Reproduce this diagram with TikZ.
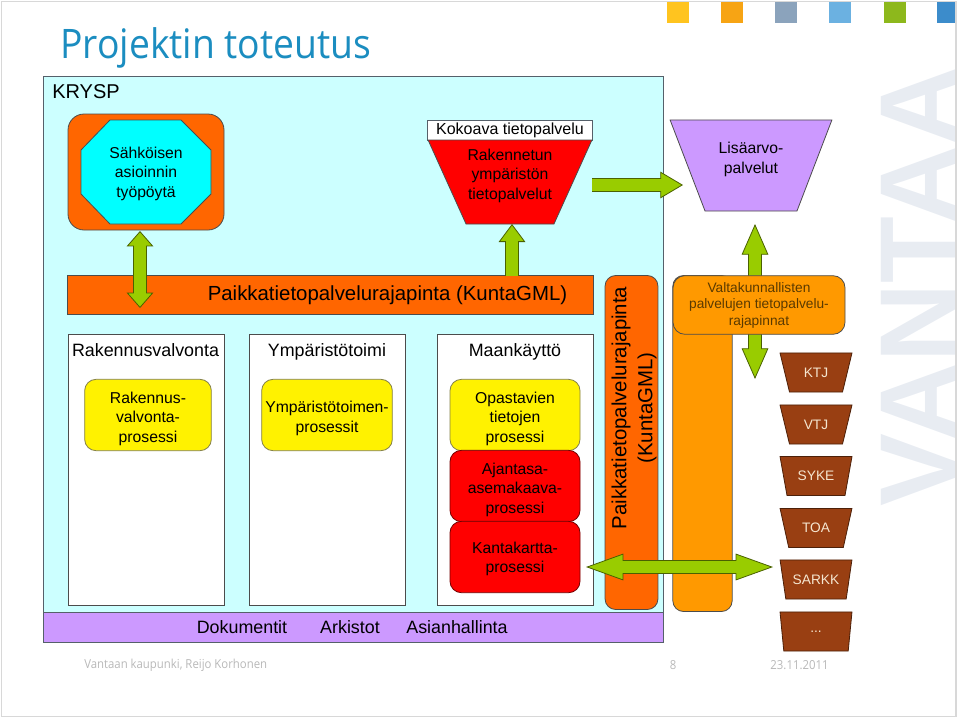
\documentclass[tikz,border=0pt]{standalone}
\usepackage{xcolor}
\usepackage{fontspec}
\setmainfont{Liberation Sans}
\newfontfamily\slidefont[FakeStretch=0.917]{Open Sans}
\usetikzlibrary{arrows.meta,shapes.geometric}
\newcommand{\lowered}{\rule{0pt}{14pt}}
\newcommand{\lowhalf}{\rule{0pt}{11.3pt}}
\definecolor{titleblue}{HTML}{1B8DC0}
\definecolor{footgray}{HTML}{B8B8B8}
\definecolor{framegray}{HTML}{D8D8D8}
\definecolor{markgray}{HTML}{E8ECF2}
\definecolor{krysplight}{HTML}{CCFFFF}
\definecolor{boxline}{HTML}{55606A}
\definecolor{apiorange}{HTML}{FF6600}
\definecolor{natorange}{HTML}{FF9900}
\definecolor{octcyan}{HTML}{00FFFF}
\definecolor{lilac}{HTML}{CC99FF}
\definecolor{arrowgreen}{HTML}{99CC00}
\definecolor{arrowline}{HTML}{4A6100}
\definecolor{brown}{HTML}{993F12}
\definecolor{cream}{HTML}{F5E6D0}
\definecolor{natbrown}{HTML}{5A3A00}
\definecolor{sqyellow}{HTML}{FFC41F}
\definecolor{sqorange}{HTML}{F7A414}
\definecolor{sqgray}{HTML}{8BA3BC}
\definecolor{sqsky}{HTML}{6BB1E1}
\definecolor{sqgreen}{HTML}{8DB81C}
\definecolor{sqblue}{HTML}{3C8CCB}
\tikzset{
    x=0.75pt,y=-0.75pt,
    shapebox/.style={draw=#1,line width=0.6pt,inner sep=0pt,outer sep=0pt,align=center},
    shapebox/.default=boxline,
    bodytext/.style={font=\fontsize{11.8}{14.6}\selectfont,align=center},
    headtext/.style={font=\fontsize{13.4}{16}\selectfont,inner sep=0pt},
    apitext/.style={font=\fontsize{15.3}{19.5}\selectfont,inner sep=0pt,align=center},
    footer/.style={font=\slidefont\fontsize{9.3}{11}\selectfont,text=footgray,inner sep=0pt},
    square/.style={fill=#1,inner sep=0pt,minimum width=16.5pt,minimum height=16.5pt},
    funnel/.style={shapebox,trapezium,trapezium stretches=true,shape border rotate=180,trapezium left angle=#1,trapezium right angle=#1},
    regbox/.style={funnel=65.5,draw=brown!50!black,fill=brown,minimum width=54pt,minimum height=29.3pt,text=cream,font=\fontsize{10.3}{12}\selectfont},
    procbox/.style={shapebox=#1!45!black,fill=#1,rounded corners=8.5pt,bodytext},
    upgreen/.style 2 args={draw=arrowline,line width=0.6pt,double=arrowgreen,double distance=9.2pt,postaction={draw=arrowgreen,line width=0.6pt,double=arrowgreen,double distance=7.8pt,arrows=-,shorten <=#1,shorten >=#2}},
    headshort/.tip={Triangle[length=11.5pt,width=20pt,fill=arrowgreen,line width=0.6pt]},
    headmid/.tip={Triangle[length=13.5pt,width=20pt,fill=arrowgreen,line width=0.6pt]},
    headlong/.tip={Triangle[length=17pt,width=20pt,fill=arrowgreen,line width=0.6pt]},
    headtall/.tip={Triangle[length=23pt,width=20pt,fill=arrowgreen,line width=0.6pt]},
    headwide/.tip={Triangle[length=28pt,width=20pt,fill=arrowgreen,line width=0.6pt]},
}
\begin{document}
\begin{tikzpicture}
            \useasboundingbox (0,0) rectangle (960,718);
            \node[square=sqyellow] (sqa) at (678,12) {};
            \node[square=sqorange] (sqb) at (732,12) {};
            \node[square=sqgray] (sqc) at (786,12) {};
            \node[square=sqsky] (sqd) at (840,12) {};
            \node[square=sqgreen] (sqe) at (895,12) {};
            \node[square=sqblue,minimum width=14.25pt] (sqf) at (946.5,12) {};
            \node[rotate=90,anchor=base,inner sep=0pt,text=markgray,font=\bfseries\fontsize{82}{82}\selectfont] (mark) at (956,286.5) {VANTAA};
            \draw[framegray,line width=1pt] (1.5,1.5) rectangle (956,716.5);

            \node[anchor=base west,inner sep=0pt,text=titleblue,font=\slidefont\fontsize{30.5}{36}\selectfont] (title) at (60,58) {Projektin toteutus};
            \node[footer,anchor=west] (footleft) at (84,665.5) {Vantaan kaupunki, Reijo Korhonen};
            \node[footer] (footnum) at (673,665.5) {8};
            \node[footer] (footdate) at (799.5,665.5) {23.11.2011};

            \node[shapebox,fill=krysplight,minimum width=465pt,minimum height=402pt] (krysp) at (353,344) {};
            \node[anchor=west,inner sep=0pt,font=\fontsize{15}{18}\selectfont] (krysplabel) at (52,92) {KRYSP};
            \node[shapebox,fill=lilac,minimum width=465pt,minimum height=22.5pt] (docbar) at (353,627) {};
            \node[headtext] (doc) at (242,627) {Dokumentit};
            \node[headtext] (arch) at (350,627) {Arkistot};
            \node[headtext] (case) at (457,627) {Asianhallinta};

            \node[shapebox=black!70,fill=white,minimum width=117pt,minimum height=203.5pt] (rakbox) at (146,470) {};
            \node[shapebox=black!70,fill=white,minimum width=117pt,minimum height=203.5pt] (ympbox) at (327,470) {};
            \node[shapebox=black!70,fill=white,minimum width=117pt,minimum height=203.5pt] (maabox) at (515,470) {};
            \node[headtext,anchor=base] (rakhead) at (145.5,356) {Rakennusvalvonta};
            \node[headtext,anchor=base] (ymphead) at (327,356) {Ympäristötoimi};
            \node[headtext,anchor=base] (maahead) at (515,356) {Maankäyttö};

            \node[procbox=yellow,minimum width=95pt,minimum height=53.5pt] (rakproc) at (148,415) {\lowered Rakennus-\\valvonta-\\prosessi};
            \node[procbox=yellow,minimum width=98pt,minimum height=53.5pt] (ympproc) at (327,415) {\lowered Ympäristötoimen-\\prosessit};
            \node[procbox=yellow,minimum width=97.5pt,minimum height=53.5pt] (opaproc) at (515,415) {\lowered Opastavien\\tietojen\\prosessi};
            \node[procbox=red,minimum width=97.5pt,minimum height=53.5pt] (ajaproc) at (515,486) {\lowered Ajantasa-\\asemakaava-\\prosessi};
            \node[procbox=red,minimum width=97.5pt,minimum height=53.5pt] (kanproc) at (515,557) {\lowhalf Kantakartta-\\prosessi};

            \node[shapebox=black!70,fill=apiorange,minimum width=394pt,minimum height=29.3pt] (apibar) at (330.5,295) {};
            \node[apitext] (apilabel) at (387.5,295) {Paikkatietopalvelurajapinta (KuntaGML)};

            \node[shapebox=black!70,fill=apiorange,rounded corners=12pt,minimum width=117pt,minimum height=87pt] (deskbox) at (146,172) {};
            \draw[draw=black!70,line width=0.6pt,fill=octcyan] (110,120) -- (181,120) -- (211,150) -- (211,194) -- (181,224) -- (110,224) -- (81,194) -- (81,150) -- cycle;
            \node[bodytext,inner sep=0pt] (desk) at (146,172) {\lowhalf Sähköisen\\asioinnin\\työpöytä};

            \node[shapebox,fill=white,minimum width=124pt,minimum height=14.6pt,font=\fontsize{12}{14}\selectfont] (koko) at (510,130.5) {Kokoava tietopalvelu};
            \node[funnel=63.5,draw=black!70,fill=red,minimum width=123pt,minimum height=63pt,bodytext] (built) at (510,182) {\lowhalf Rakennetun\\ympäristön\\tietopalvelut\\~};
            \node[funnel=65.5,draw=black!70,fill=lilac,minimum width=121.5pt,minimum height=68.3pt,bodytext] (added) at (751,165.5) {\lowhalf Lisäarvo-\\palvelut\\~};

            \coordinate (desktip) at (140,231);
            \coordinate (barhead) at (140,308);
            \coordinate (builtfoot) at (512,224);
            \coordinate (barfoot) at (512,276);
            \coordinate (builtside) at (592,185);
            \coordinate (addedside) at (683,185);
            \coordinate (addedfoot) at (755,224);
            \coordinate (regtop) at (755,379);
            \coordinate (maaside) at (586,567);
            \coordinate (regside) at (773,567);

            \draw[upgreen={10pt}{10pt},{headshort}-{headshort}] (desktip) -- (barhead);
            \draw[upgreen={0pt}{12pt},-{headmid}] (barfoot) -- (builtfoot);
            \draw[upgreen={0pt}{15.5pt},-{headlong}] (builtside) -- (addedside);
            \draw[upgreen={21.5pt}{21.5pt},{headtall}-{headtall}] (addedfoot) -- (regtop);

            \node[shapebox=black!70,fill=apiorange,rounded corners=8pt,minimum width=39.7pt,minimum height=250.5pt] (apicol) at (631.5,442.5) {};
            \node[apitext,rotate=90] (apicollabel) at (634,408) {Paikkatietopalvelurajapinta\\(KuntaGML)};
            \node[shapebox=black!70,fill=natorange,rounded corners=8pt,minimum width=44.5pt,minimum height=252pt] (natcol) at (702.5,443.5) {};
            \node[shapebox=black!70,fill=natorange,rounded corners=9pt,minimum width=129pt,minimum height=44pt,text=natbrown,font=\fontsize{10.3}{12.4}\selectfont] (natbox) at (759,305) {Valtakunnallisten\\palvelujen tietopalvelu-\\rajapinnat};

            \draw[upgreen={26.5pt}{26.5pt},{headwide}-{headwide}] (maaside) -- (regside);

            \node[regbox] (ktj) at (816,372.5) {KTJ};
            \node[regbox] (vtj) at (816,424.5) {VTJ};
            \node[regbox] (syke) at (816,476) {SYKE};
            \node[regbox] (toa) at (816,528) {TOA};
            \node[regbox] (sarkk) at (816,579.5) {SARKK};
            \node[regbox] (more) at (816,631.5) {...};
        \end{tikzpicture}
\end{document}
